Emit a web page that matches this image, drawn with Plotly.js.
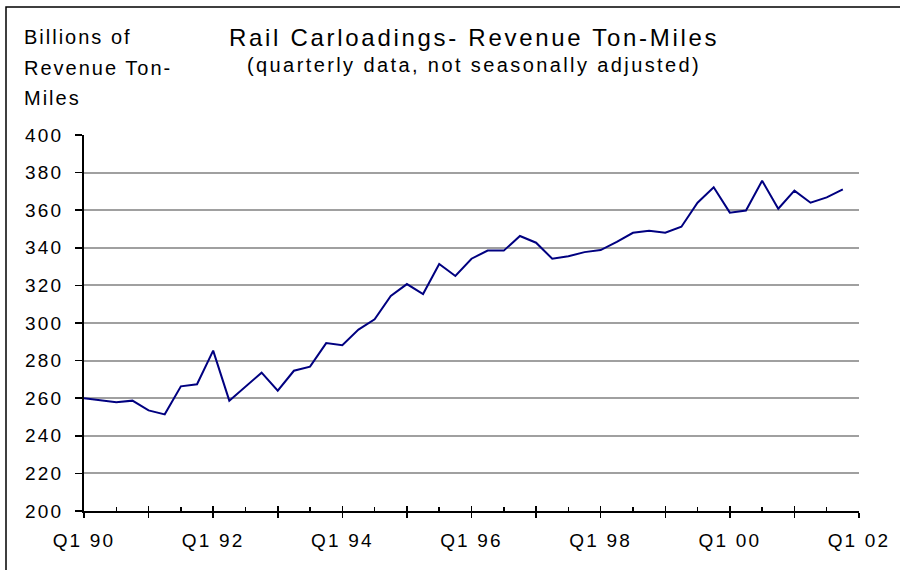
<!DOCTYPE html>
<html>
<head>
<meta charset="utf-8">
<script src="https://cdn.plot.ly/plotly-3.0.1.min.js"></script>
<style>
  html, body { margin: 0; padding: 0; background: #ffffff; }
  #chart { width: 900px; height: 570px; }
  .xtick text, .ytick text { letter-spacing: 2.2px; }
  .annotation-text { letter-spacing: 2px; }
</style>
</head>
<body>
<div id="chart"></div>
<script>
// Quarters Q1 1990 .. Q4 2001
const quarters = [
  'Q1 90','Q2 90','Q3 90','Q4 90','Q1 91','Q2 91','Q3 91','Q4 91',
  'Q1 92','Q2 92','Q3 92','Q4 92','Q1 93','Q2 93','Q3 93','Q4 93',
  'Q1 94','Q2 94','Q3 94','Q4 94','Q1 95','Q2 95','Q3 95','Q4 95',
  'Q1 96','Q2 96','Q3 96','Q4 96','Q1 97','Q2 97','Q3 97','Q4 97',
  'Q1 98','Q2 98','Q3 98','Q4 98','Q1 99','Q2 99','Q3 99','Q4 99',
  'Q1 00','Q2 00','Q3 00','Q4 00','Q1 01','Q2 01','Q3 01','Q4 01'
];
// Billions of revenue ton-miles
const tonMiles = [
  260.0, 259.0, 257.8, 258.7, 253.5, 251.4, 266.3, 267.4,
  285.3, 258.7, 266.1, 273.6, 264.0, 274.6, 276.8, 289.3,
  288.2, 296.5, 302.0, 314.4, 320.7, 315.4, 331.4, 325.0,
  334.2, 338.5, 338.5, 346.3, 342.7, 334.2, 335.5, 337.7,
  338.8, 343.1, 348.0, 349.1, 348.0, 351.2, 364.0, 372.2,
  358.7, 359.8, 375.7, 360.8, 370.4, 364.0, 366.8, 371.1
];
const tickLabels = ['Q1 90','', 'Q1 92','', 'Q1 94','', 'Q1 96','', 'Q1 98','', 'Q1 00','', 'Q1 02'];
const yTicks = [200, 220, 240, 260, 280, 300, 320, 340, 360, 380, 400];

const xIdx = quarters.map((q, i) => i);
const nQ = quarters.length;          // 48
const yearTickVals = tickLabels.map((t, i) => i * 4);
const halfTickVals = tickLabels.slice(0, -1).map((t, i) => i * 4 + 2);

const trace = {
  x: xIdx,
  y: tonMiles,
  text: quarters,
  type: 'scatter',
  mode: 'lines',
  line: { color: '#000080', width: 2 },
  hoverinfo: 'text+y',
  xaxis: 'x',
  yaxis: 'y'
};
// invisible helper trace for overlay axis
const helper = { x: [0], y: [200], xaxis: 'x2', yaxis: 'y', mode: 'markers',
  marker: { opacity: 0 }, hoverinfo: 'skip', showlegend: false };

const L = 84, R = 859, T = 135, B = 511;
const px = v => (v - L) / (R - L);
const py = v => (B - v) / (B - T);

const font = { family: '"Liberation Sans", Arial, sans-serif', color: '#000000' };

const layout = {
  width: 900, height: 570,
  margin: { l: L, r: 900 - R, t: T, b: 570 - B, pad: 0 },
  paper_bgcolor: '#ffffff',
  plot_bgcolor: '#ffffff',
  showlegend: false,
  font: Object.assign({}, font, { size: 19 }),
  xaxis: {
    range: [0, nQ],
    tickmode: 'array',
    tickvals: yearTickVals,
    ticktext: tickLabels,
    ticks: 'outside', ticklen: 5, tickwidth: 1.5, tickcolor: '#000',
    showline: true, linecolor: '#000', linewidth: 2,
    showgrid: false, zeroline: false,
    ticklabelstandoff: 6,
    tickfont: Object.assign({}, font, { size: 19 }),
    fixedrange: true
  },
  xaxis2: {
    overlaying: 'x', anchor: 'y', side: 'bottom',
    range: [0, nQ],
    tickmode: 'array',
    tickvals: yearTickVals,
    ticks: 'inside', ticklen: 5, tickwidth: 1.5, tickcolor: '#000',
    showticklabels: false, showgrid: false, zeroline: false, showline: false,
    minor: { tickmode: 'array', tickvals: halfTickVals, ticks: 'inside', ticklen: 4, tickwidth: 1.5, tickcolor: '#000', showgrid: false },
    fixedrange: true
  },
  yaxis: {
    range: [200, 400],
    tickmode: 'array',
    tickvals: yTicks,
    ticktext: yTicks.map(String),
    ticks: 'outside', ticklen: 7, tickwidth: 1.5, tickcolor: '#000',
    showline: true, linecolor: '#000', linewidth: 2,
    showgrid: true, gridcolor: '#a0a0a0', gridwidth: 2,
    zeroline: false,
    ticklabelstandoff: 8,
    tickfont: Object.assign({}, font, { size: 19 }),
    fixedrange: true
  },
  shapes: [{
    type: 'rect', xref: 'paper', yref: 'paper',
    x0: px(6), x1: px(910), y0: py(585), y1: py(7),
    line: { color: '#000', width: 1.5 }, fillcolor: 'rgba(0,0,0,0)', layer: 'above'
  }],
  annotations: [
    { text: '<span style="letter-spacing:2.7px">Rail Carloadings- Revenue Ton-Miles</span>', xref: 'paper', yref: 'paper',
      x: px(474), y: py(38), xanchor: 'center', yanchor: 'middle', showarrow: false,
      font: Object.assign({}, font, { size: 24 }) },
    { text: '<span style="letter-spacing:2.4px">(quarterly data, not seasonally adjusted)</span>', xref: 'paper', yref: 'paper',
      x: px(474), y: py(65), xanchor: 'center', yanchor: 'middle', showarrow: false,
      font: Object.assign({}, font, { size: 20 }) },
    { text: 'Billions of', xref: 'paper', yref: 'paper',
      x: px(22), y: py(37), xanchor: 'left', yanchor: 'middle', showarrow: false,
      font: Object.assign({}, font, { size: 20 }) },
    { text: 'Revenue Ton-', xref: 'paper', yref: 'paper',
      x: px(22), y: py(68), xanchor: 'left', yanchor: 'middle', showarrow: false,
      font: Object.assign({}, font, { size: 20 }) },
    { text: 'Miles', xref: 'paper', yref: 'paper',
      x: px(22), y: py(98), xanchor: 'left', yanchor: 'middle', showarrow: false,
      font: Object.assign({}, font, { size: 20 }) }
  ]
};

Plotly.newPlot('chart', [trace, helper], layout, { displayModeBar: false, staticPlot: true });
</script>
</body>
</html>
